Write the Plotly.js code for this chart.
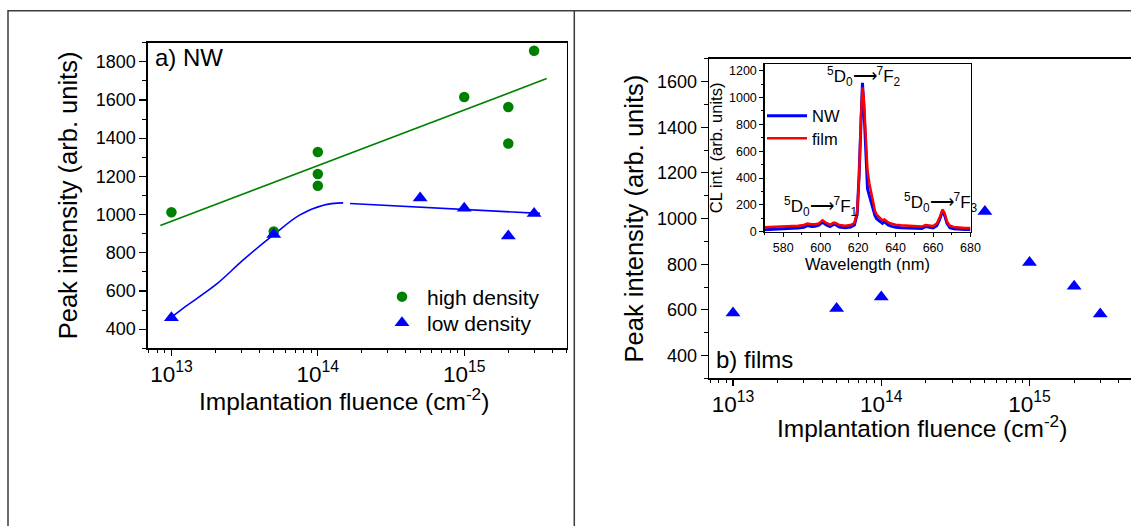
<!DOCTYPE html>
<html>
<head>
<meta charset="utf-8">
<script src="https://cdn.plot.ly/plotly-3.0.1.min.js"></script>
<style>
html,body{margin:0;padding:0;background:#fff;overflow:hidden;}
#chart{width:1145px;height:526px;}
</style>
</head>
<body>
<div id="chart"></div>
<script>
// ---------- Panel a) NW ----------
const nwHighX = [1e13, 5e13, 1e14, 1e14, 1e14, 1e15, 2e15, 2e15, 3e15];
const nwHighY = [1012, 911, 1328, 1212, 1151, 1616, 1563, 1372, 1858];
const nwLowX = [1e13, 5e13, 5e14, 1e15, 2e15, 3e15];
const nwLowY = [460, 895, 1086, 1033, 888, 1005];
// linear (in log x) guide for high density
const nwHighFitX = [8.4e12, 3.66e15];
const nwHighFitY = [943, 1712];
// hand-drawn guide for low density (two pieces with a small break)
const nwLowGuideX = [1e13, 1.2e13, 2.03e13, 3.08e13, 4.95e13, 7.5e13, 1.09e14, 1.49e14, null, 1.66e14, 3.29e15];
const nwLowGuideY = [462, 509, 635, 761, 892, 997, 1049, 1061, null, 1058, 1006];

// ---------- Panel b) films ----------
const filmX = [1e13, 5e13, 1e14, 5e14, 1e15, 2e15, 3e15];
const filmY = [586, 606, 656, 1031, 808, 704, 582];

// ---------- Inset: CL spectra ----------
const wavelength = [570,575,580,585,588,591,593,595,597,599,601,603,605,607,608,610,613,616,618,619.5,620.5,621.5,622.3,623,624,625,626,627,628,629,630,631,632,633,634,635,636,638,640,643,646,650,654,656,658,660,662,663.5,665,666,667.5,669,671,674,677,680];
const clNW = [15,17,18,25,28,33,45,38,40,48,72,50,38,55,52,35,30,35,50,130,420,900,1110,950,620,320,270,220,160,120,95,85,75,62,75,60,50,40,33,30,27,25,24,38,32,28,45,90,150,130,60,30,22,18,17,16];
const clFilm = [33,35,36,42,44,50,60,55,55,62,85,65,52,68,66,50,45,50,65,150,400,850,1075,1000,700,460,360,290,200,155,125,110,100,85,92,80,70,60,52,48,45,40,38,50,45,42,60,105,165,145,75,45,35,30,28,27];

const yTicksNW = [400,600,800,1000,1200,1400,1600,1800];
const yTicksFilm = [400,600,800,1000,1200,1400,1600];
const insetXTicks = [580,600,620,640,660,680];
const insetYTicks = [0,200,400,600,800,1000,1200];
const xTitle = 'Implantation fluence (cm<sup>-2</sup>)';
const yTitle = 'Peak intensity (arb. units)';

const W = 1145, H = 526;
const FONT = 'Liberation Sans, Arial, sans-serif';
const GREEN = '#008000', BLUE = '#0000ff', RED = '#ff0000';

function px(x){ return x / W; }
function py(y){ return (H - y) / H; }

const traces = [
  {x: nwHighFitX, y: nwHighFitY, mode:'lines', line:{color:GREEN, width:1.6}, showlegend:false, xaxis:'x', yaxis:'y', hoverinfo:'skip'},
  {x: nwLowGuideX, y: nwLowGuideY, mode:'lines', line:{color:BLUE, width:1.6, shape:'spline', smoothing:1}, connectgaps:false, showlegend:false, xaxis:'x', yaxis:'y', hoverinfo:'skip'},
  {x: nwHighX, y: nwHighY, mode:'markers', name:'high density', marker:{symbol:'circle', size:10.5, color:GREEN}, xaxis:'x', yaxis:'y', legend:'legend'},
  {x: nwLowX, y: nwLowY, mode:'markers', name:'low density', marker:{symbol:'triangle-up', size:13, color:BLUE}, xaxis:'x', yaxis:'y', legend:'legend3'},
  {x: filmX, y: filmY, mode:'markers', name:'films', marker:{symbol:'triangle-up', size:13, color:BLUE}, xaxis:'x2', yaxis:'y2', showlegend:false},
  {x: wavelength, y: clNW, mode:'lines', name:'NW', line:{color:BLUE, width:3}, xaxis:'x3', yaxis:'y3', legend:'legend2'},
  {x: wavelength, y: clFilm, mode:'lines', name:'film', line:{color:RED, width:2.5}, xaxis:'x3', yaxis:'y3', legend:'legend4'}
];

const logAxisCommon = {
  type:'log', range:[12.838, 15.702], dtick:1, exponentformat:'power', showexponent:'all',
  ticks:'outside', ticklen:6, tickwidth:1.2, tickcolor:'#000',
  minor:{dtick:'D1', ticks:'outside', ticklen:3.5, tickwidth:1, tickcolor:'#000'},
  showline:true, linecolor:'#000', linewidth:1.3, mirror:true, showgrid:false, zeroline:false,
  tickfont:{family:FONT, size:18, color:'#000'}
};
const linAxisCommon = {
  ticks:'outside', ticklen:7, tickwidth:1.2, tickcolor:'#000',
  showline:true, linecolor:'#000', linewidth:1.3, mirror:true, showgrid:false, zeroline:false,
  tickfont:{family:FONT, size:18, color:'#000'}
};
function legendAt(x, y, size, itemwidth){
  return {x:px(x), y:py(y), xanchor:'left', yanchor:'middle', bgcolor:'rgba(0,0,0,0)',
          font:{family:FONT, size:size, color:'#000'}, itemwidth:itemwidth, tracegroupgap:0};
}

const layout = {
  width:W, height:H, autosize:false,
  margin:{l:0, r:0, t:0, b:0, pad:0},
  paper_bgcolor:'#fff', plot_bgcolor:'#fff',
  font:{family:FONT, color:'#000'},
  xaxis: Object.assign({}, logAxisCommon, {
    domain:[px(147.7), px(567)], anchor:'y'
  }),
  yaxis: Object.assign({}, linAxisCommon, {
    domain:[py(348.2), py(42.7)], anchor:'x', range:[300,1900], tickvals:yTicksNW,
    minor:{dtick:100, ticks:'outside', ticklen:4, tickwidth:1, tickcolor:'#000'},
    title:{text:yTitle, font:{family:FONT, size:25.5}, standoff:10}
  }),
  xaxis2: Object.assign({}, logAxisCommon, {
    domain:[px(709), px(1133.6)], anchor:'y2'
  }),
  yaxis2: Object.assign({}, linAxisCommon, {
    domain:[py(378.4), py(58.7)], anchor:'x2', range:[300,1700], tickvals:yTicksFilm,
    minor:{dtick:100, ticks:'outside', ticklen:4, tickwidth:1, tickcolor:'#000'},
    title:{text:yTitle, font:{family:FONT, size:25.5}, standoff:6}
  }),
  xaxis3: {
    domain:[px(764.5), px(970.5)], anchor:'y3', range:[570,680], tickvals:insetXTicks,
    ticks:'outside', ticklen:4, tickwidth:1, tickcolor:'#000',
    minor:{dtick:10, ticks:'outside', ticklen:2.5, tickwidth:1, tickcolor:'#000'},
    showline:true, linecolor:'#000', linewidth:1.2, mirror:true, showgrid:false, zeroline:false,
    tickfont:{family:FONT, size:12.5, color:'#000'},
    title:{text:'Wavelength (nm)', font:{family:FONT, size:16.5}, standoff:1}
  },
  yaxis3: {
    domain:[py(231.7), py(64)], anchor:'x3', range:[0,1250], tickvals:insetYTicks,
    ticks:'outside', ticklen:4, tickwidth:1, tickcolor:'#000',
    minor:{dtick:100, ticks:'outside', ticklen:2.5, tickwidth:1, tickcolor:'#000'},
    showline:true, linecolor:'#000', linewidth:1.2, mirror:true, showgrid:false, zeroline:false,
    tickfont:{family:FONT, size:12.5, color:'#000'},
    title:{text:'CL int. (arb. units)', font:{family:FONT, size:16.5}, standoff:2}
  },
  legend: legendAt(377, 297, 21, 40),
  legend3: legendAt(377, 323, 21, 40),
  legend2: legendAt(762, 116, 16.5, 40),
  legend4: legendAt(762, 138.5, 16.5, 40),
  annotations:[
    {text:xTitle, xref:'paper', yref:'paper', x:px(344), y:py(399), xanchor:'center', yanchor:'middle', showarrow:false, font:{family:FONT, size:24.5, color:'#000'}},
    {text:xTitle, xref:'paper', yref:'paper', x:px(921.5), y:py(426), xanchor:'center', yanchor:'middle', showarrow:false, font:{family:FONT, size:24.5, color:'#000'}},
    {text:'a) NW', xref:'x domain', yref:'y domain', x:0.012, y:0.95, xanchor:'left', yanchor:'middle', showarrow:false, font:{family:FONT, size:24, color:'#000'}},
    {text:'b) films', xref:'x2 domain', yref:'y2 domain', x:0.012, y:0.06, xanchor:'left', yanchor:'middle', showarrow:false, font:{family:FONT, size:24, color:'#000'}},
    {text:'<sup>5</sup>D<sub>0</sub>\u27f6<sup>7</sup>F<sub>2</sub>', xref:'x3', yref:'y3', x:623, y:1160, xanchor:'center', yanchor:'middle', showarrow:false, font:{family:FONT, size:17, color:'#000'}},
    {text:'<sup>5</sup>D<sub>0</sub>\u27f6<sup>7</sup>F<sub>1</sub>', xref:'x3', yref:'y3', x:600, y:190, xanchor:'center', yanchor:'middle', showarrow:false, font:{family:FONT, size:17, color:'#000'}},
    {text:'<sup>5</sup>D<sub>0</sub>\u27f6<sup>7</sup>F<sub>3</sub>', xref:'x3', yref:'y3', x:664.5, y:215, xanchor:'center', yanchor:'middle', showarrow:false, font:{family:FONT, size:17, color:'#000'}}
  ],
  shapes:[
    {type:'rect', xref:'paper', yref:'paper', x0:px(8), x1:1.2, y0:-0.2, y1:py(10.7), line:{color:'#3c3c3c', width:1.5}, layer:'below'},
    {type:'line', xref:'paper', yref:'paper', x0:px(574.3), x1:px(574.3), y0:-0.2, y1:py(10.7), line:{color:'#3c3c3c', width:1.5}, layer:'below'}
  ]
};

Plotly.newPlot('chart', traces, layout, {staticPlot:true, displayModeBar:false});
</script>
</body>
</html>
